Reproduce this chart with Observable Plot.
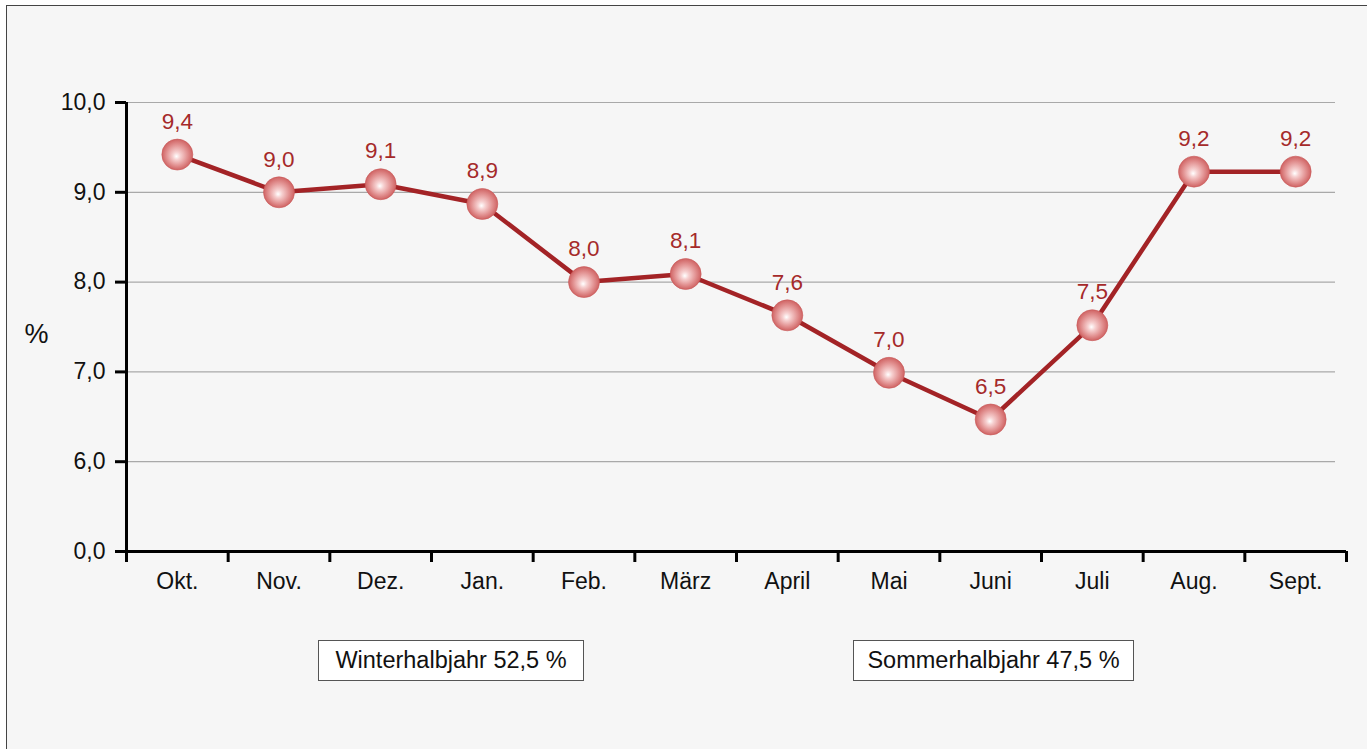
<!DOCTYPE html>
<html>
<head>
<meta charset="utf-8">
<script src="https://cdn.jsdelivr.net/npm/d3@7"></script>
<script src="https://cdn.jsdelivr.net/npm/@observablehq/plot@0.6"></script>
<style>
  html, body { margin: 0; padding: 0; background: #ffffff; }
  body { width: 1367px; height: 749px; position: relative; overflow: hidden; font-family: "Liberation Sans", Arial, sans-serif; }
  #frame { position: absolute; left: 6px; top: 5px; width: 1400px; height: 800px; background: #f6f6f6; border: 1.5px solid #444; box-sizing: border-box; }
  #chart { position: absolute; left: 0; top: 0; }
  .box { position: absolute; top: 640px; height: 41px; background: #ffffff; border: 1px solid #555; box-sizing: border-box;
         display: flex; align-items: center; justify-content: center; font-size: 23.5px; color: #111; }
</style>
</head>
<body>
<div id="frame"></div>
<div id="chart"></div>
<div class="box" id="box1" style="left:318px; width:266px;"></div>
<div class="box" id="box2" style="left:853px; width:281px;"></div>
<script>
const months = ["Okt.", "Nov.", "Dez.", "Jan.", "Feb.", "März", "April", "Mai", "Juni", "Juli", "Aug.", "Sept."];
const values = [9.42, 9.0, 9.09, 8.87, 8.0, 8.09, 7.63, 6.99, 6.47, 7.52, 9.23, 9.23];
const labels = ["9,4", "9,0", "9,1", "8,9", "8,0", "8,1", "7,6", "7,0", "6,5", "7,5", "9,2", "9,2"];
const yTicks = [5, 6, 7, 8, 9, 10];
const yTickLabels = ["0,0", "6,0", "7,0", "8,0", "9,0", "10,0"];
const gridValues = [6, 7, 8, 9, 10];
const halfYearLabels = ["Winterhalbjahr 52,5 %", "Sommerhalbjahr 47,5 %"];
const yUnit = "%";

const data = months.map((m, i) => ({i, month: m, value: values[i], label: labels[i]}));
const bounds = d3.range(months.length + 1).map(k => k - 0.5);

const lineColor = "#a32326";
const labelColor = "#a52a2a";

const plot = Plot.plot({
  width: 1367,
  height: 749,
  marginLeft: 126,
  marginRight: 21,
  marginTop: 102,
  marginBottom: 198,
  style: {background: "transparent", fontFamily: "'Liberation Sans', Arial, sans-serif", overflow: "visible"},
  x: {type: "linear", domain: [-0.5, months.length - 0.5], axis: null},
  y: {domain: [5, 10], axis: null},
  marks: [
    Plot.ruleY(gridValues, {stroke: "#a9a9a9", strokeWidth: 1.2, insetRight: 11}),
    // y axis
    Plot.ruleX([-0.5], {y1: 5, y2: 10, stroke: "#000", strokeWidth: 3}),
    Plot.ruleY(yTicks, {x1: -0.5, x2: -0.5, stroke: "#000", strokeWidth: 3, insetLeft: -11}),
    Plot.text(yTicks, {x: -0.5, y: d => d, text: (d, i) => yTickLabels[i], textAnchor: "end", dx: -21, fontSize: 23, fill: "#111"}),
    // x axis
    Plot.ruleY([5], {x1: -0.5, x2: months.length - 0.5, stroke: "#000", strokeWidth: 3}),
    Plot.ruleX(bounds, {y1: 5, y2: 5, stroke: "#000", strokeWidth: 3, insetBottom: -11}),
    Plot.text(data, {x: "i", y: 5, text: "month", dy: 30, fontSize: 23, fill: "#111"}),
    // unit
    Plot.text([yUnit], {frameAnchor: "left", dx: -90, dy: 7, text: d => d, fontSize: 27, fill: "#111", textAnchor: "middle"}),
    // line + dots
    Plot.line(data, {x: "i", y: "value", stroke: lineColor, strokeWidth: 4.5}),
    Plot.dot(data, {x: "i", y: "value", r: 15.5, fill: "url(#ballGrad)", stroke: "#c95a5a", strokeWidth: 0.6}),
    Plot.text(data, {x: "i", y: "value", text: "label", dy: -33, fontSize: 22.5, fill: labelColor})
  ]
});

// gradient for the spheres
const svg = d3.select(plot);
const defs = svg.insert("defs", ":first-child");
const g = defs.append("radialGradient").attr("id", "ballGrad")
  .attr("cx", "0.5").attr("cy", "0.5").attr("r", "0.5")
  .attr("fx", "0.47").attr("fy", "0.56");
g.append("stop").attr("offset", "0%").attr("stop-color", "#ffffff");
g.append("stop").attr("offset", "25%").attr("stop-color", "#f6cfcf");
g.append("stop").attr("offset", "65%").attr("stop-color", "#e39494");
g.append("stop").attr("offset", "100%").attr("stop-color", "#cf6262");

document.getElementById("chart").appendChild(plot);
document.getElementById("box1").textContent = halfYearLabels[0];
document.getElementById("box2").textContent = halfYearLabels[1];
</script>
</body>
</html>
